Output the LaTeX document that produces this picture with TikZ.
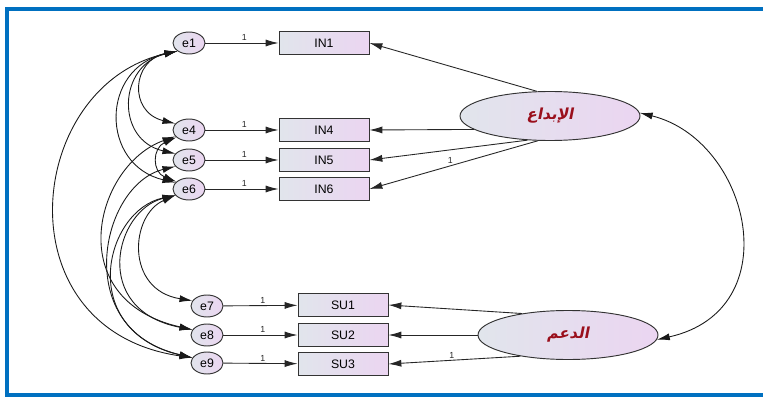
\documentclass[tikz,border=0pt]{standalone}
\usepackage{fontspec}
\setmainfont{Liberation Sans}
\newfontfamily\arabicfont[Script=Arabic,FakeSlant=0.2]{DejaVu Sans}
\TeXXeTstate=1
\usepackage{tikz}
\usetikzlibrary{arrows.meta,positioning,calc,shapes.geometric}
\definecolor{frameblue}{HTML}{0070C0}
\definecolor{leftfill}{HTML}{E1E5EC}
\definecolor{rightfill}{HTML}{EBD5F1}
\definecolor{latentred}{HTML}{9A0F1C}

\begin{document}
\begin{tikzpicture}[x=0.03cm, y=-0.03cm,
    errvar/.style={ellipse, draw=black!80, line width=0.8pt, left color=leftfill, right color=rightfill, minimum width=0.96cm, minimum height=0.66cm, inner sep=0pt, font=\fontsize{10.5}{12}\selectfont},
    indicator/.style={draw=black!80, line width=0.8pt, left color=leftfill, right color=rightfill, minimum width=2.7cm, minimum height=0.69cm, inner sep=0pt, font=\fontsize{10.5}{12}\selectfont},
    latent/.style={ellipse, draw=black!80, line width=0.8pt, left color=leftfill, right color=rightfill, minimum width=5.4cm, minimum height=1.47cm, inner sep=0pt, text=latentred, font=\arabicfont\bfseries\fontsize{13}{15}\selectfont},
    load/.style={-{Latex[length=11pt,width=6pt]}, line width=0.75pt, black!85},
    cov/.style={{Latex[length=11pt,width=6pt]}-{Latex[length=11pt,width=6pt]}, line width=0.75pt, black!90},
    wt/.style={font=\fontsize{7.5}{8}\selectfont, inner sep=1.5pt}
]
\useasboundingbox (0,0) rectangle (763,399);
\fill[white] (0,0) rectangle (763,399);

% frame
\draw[frameblue, line width=3.4pt] (763,9) -- (7,9) -- (7,395) -- (763,395);

% latent variables
\node[latent] (cre) at (550,116) {\beginR الإبداع\endR};
\node[latent] (sup) at (568,335) {\beginR الدعم\endR};

% indicators
\node[indicator] (IN1) at (324,43) {IN1};
\node[indicator] (IN4) at (324,130) {IN4};
\node[indicator] (IN5) at (324,160) {IN5};
\node[indicator] (IN6) at (324,189) {IN6};

\node[indicator] (SU1) at (343,305) {SU1};
\node[indicator] (SU2) at (343,335) {SU2};
\node[indicator] (SU3) at (343,364) {SU3};

% error terms
\node[errvar] (e1) at (189,43) {e1};
\node[errvar] (e4) at (189,130) {e4};
\node[errvar] (e5) at (189,160) {e5};
\node[errvar] (e6) at (189,189) {e6};

\node[errvar] (e7) at (207,306) {e7};
\node[errvar] (e8) at (207,335) {e8};
\node[errvar] (e9) at (207,363) {e9};

% error paths
\draw[load] (e1) -- node[wt, above, pos=0.53] {1} (IN1);
\draw[load] (e4) -- node[wt, above, pos=0.53] {1} (IN4);
\draw[load] (e5) -- node[wt, above, pos=0.53] {1} (IN5);
\draw[load] (e6) -- node[wt, above, pos=0.53] {1} (IN6);
\draw[load] (e7) -- node[wt, above, pos=0.53] {1} (SU1);
\draw[load] (e8) -- node[wt, above, pos=0.53] {1} (SU2);
\draw[load] (e9) -- node[wt, above, pos=0.53] {1} (SU3);

% loadings
\draw[load] (cre.118) -- (IN1.east);
\draw[load] (cre.190) -- (IN4.east);
\draw[load] (cre.227) -- (IN5.east);
\draw[load] (cre.244) -- node[wt, above, pos=0.52] {1} (IN6.east);

\draw[load] (sup.155) -- (SU1.east);
\draw[load] (sup.west) -- (SU2.east);
\draw[load] (sup.204) -- node[wt, above, pos=0.52] {1} (SU3.east);

% covariances
\draw[cov] (cre.2) .. controls (750,140) and (790,310) .. (sup.357);

\draw[cov] (e1.215) .. controls (132,60) and (128,112) .. (e4.155);
\draw[cov] (e1.215) .. controls (118,65) and (115,140) .. (e5.155);
\draw[cov] (e1.215) .. controls (100,68) and (100,165) .. (e6.155);
\draw[cov] (e1.215) .. controls (25,85) and (0,330) .. (e9.160);
\draw[cov] (e4.205) .. controls (95,165) and (60,300) .. (e8.160);
\draw[cov] (e5.205) .. controls (100,185) and (70,330) .. (e9.160);
\draw[cov] (e4.210) .. controls (152,148) and (152,172) .. (e6.150);
\draw[cov] (e6.205) .. controls (105,210) and (75,330) .. (e9.160);
\draw[cov] (e6.205) .. controls (115,210) and (90,310) .. (e8.160);
\draw[cov] (e6.205) .. controls (130,215) and (125,290) .. (e7.160);

\end{tikzpicture}
\end{document}
